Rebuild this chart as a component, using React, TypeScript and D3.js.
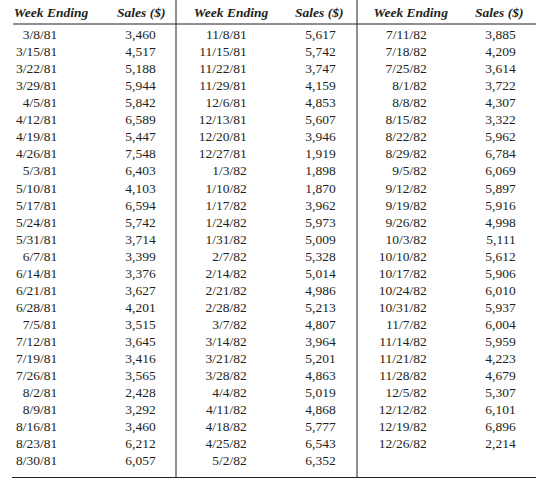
import React from "react";
import * as d3 from "d3";

const weeksA = ["3/8/81","3/15/81","3/22/81","3/29/81","4/5/81","4/12/81","4/19/81","4/26/81","5/3/81","5/10/81","5/17/81","5/24/81","5/31/81","6/7/81","6/14/81","6/21/81","6/28/81","7/5/81","7/12/81","7/19/81","7/26/81","8/2/81","8/9/81","8/16/81","8/23/81","8/30/81"];
const salesA = [3460,4517,5188,5944,5842,6589,5447,7548,6403,4103,6594,5742,3714,3399,3376,3627,4201,3515,3645,3416,3565,2428,3292,3460,6212,6057];

const weeksB = ["11/8/81","11/15/81","11/22/81","11/29/81","12/6/81","12/13/81","12/20/81","12/27/81","1/3/82","1/10/82","1/17/82","1/24/82","1/31/82","2/7/82","2/14/82","2/21/82","2/28/82","3/7/82","3/14/82","3/21/82","3/28/82","4/4/82","4/11/82","4/18/82","4/25/82","5/2/82"];
const salesB = [5617,5742,3747,4159,4853,5607,3946,1919,1898,1870,3962,5973,5009,5328,5014,4986,5213,4807,3964,5201,4863,5019,4868,5777,6543,6352];

const weeksC = ["7/11/82","7/18/82","7/25/82","8/1/82","8/8/82","8/15/82","8/22/82","8/29/82","9/5/82","9/12/82","9/19/82","9/26/82","10/3/82","10/10/82","10/17/82","10/24/82","10/31/82","11/7/82","11/14/82","11/21/82","11/28/82","12/5/82","12/12/82","12/19/82","12/26/82"];
const salesC = [3885,4209,3614,3722,4307,3322,5962,6784,6069,5897,5916,4998,5111,5612,5906,6010,5937,6004,5959,4223,4679,5307,6101,6896,2214];

const headers = ["Week Ending", "Sales ($)"];

const W = 543;
const H = 485;
const ink = "#231f20";
const fontFamily = "Liberation Serif, Tinos, Times New Roman, Times, serif";

export default function App() {
  const panels = [
    { weeks: weeksA, sales: salesA },
    { weeks: weeksB, sales: salesB },
    { weeks: weeksC, sales: salesC },
  ];
  const rowY = d3.scaleLinear().domain([0, 25]).range([34.3, 460.7]);
  const fmt = d3.format(",");
  const dateRight = [57.3, 246.7, 426.7];
  const salesRight = [155.7, 335.7, 515.7];
  const headWeek = [51, 231, 410.7];
  const headSales = [141.3, 319.3, 499.3];
  const dividers = [176, 357];
  const base = { fontFamily, fontSize: 13.5, fill: ink } as React.CSSProperties;

  return (
    <svg width={W} height={H} style={{ position: "absolute", left: 0, top: 0 }}>
      <rect x={0} y={0} width={W} height={H} fill="#fff" />
      <line x1={13} x2={536} y1={24} y2={24} stroke={ink} strokeWidth={1} />
      <line x1={12} x2={536} y1={477.5} y2={477.5} stroke={ink} strokeWidth={1} />
      {dividers.map((x) => (
        <line key={x} x1={x} x2={x} y1={0} y2={477.5} stroke={ink} strokeWidth={1} />
      ))}
      {panels.map((p, pi) => (
        <g key={pi}>
          {headers.map((h, hi) => (
            <text
              key={h}
              x={hi === 0 ? headWeek[pi] : headSales[pi]}
              y={12.5}
              dy="0.35em"
              textAnchor="middle"
              style={{ ...base, fontWeight: "bold", fontStyle: "italic" }}
            >
              {h}
            </text>
          ))}
          {p.weeks.map((w, i) => (
            <text key={"w" + i} x={dateRight[pi]} y={rowY(i)} dy="0.35em" textAnchor="end" style={base}>
              {w}
            </text>
          ))}
          {p.sales.map((s, i) => (
            <text key={"s" + i} x={salesRight[pi]} y={rowY(i)} dy="0.35em" textAnchor="end" style={base}>
              {fmt(s)}
            </text>
          ))}
        </g>
      ))}
    </svg>
  );
}
